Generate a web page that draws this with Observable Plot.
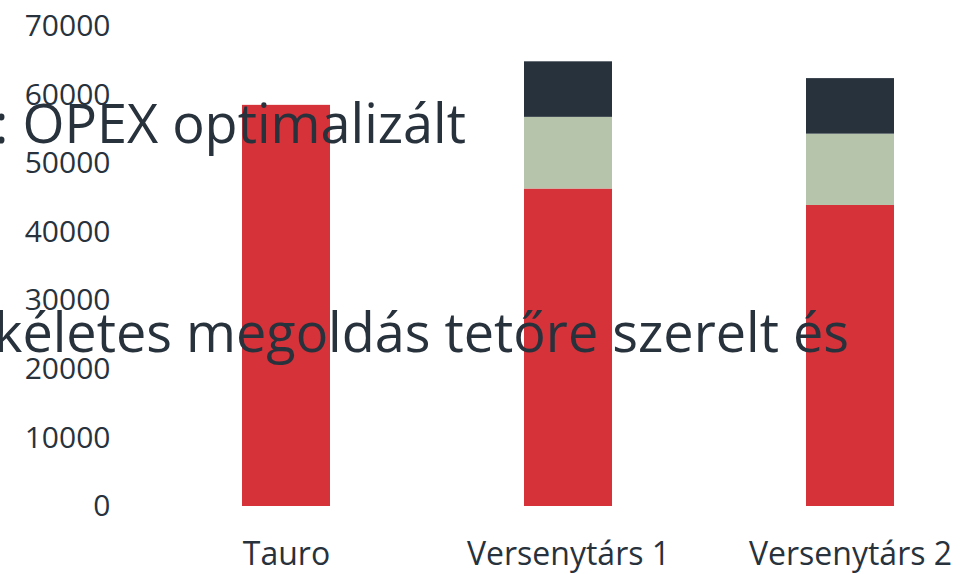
<!DOCTYPE html>
<html>
<head>
<meta charset="utf-8">
<script src="https://cdn.jsdelivr.net/npm/d3@7"></script>
<script src="https://cdn.jsdelivr.net/npm/@observablehq/plot@0.6"></script>
<style>
  html, body { margin: 0; padding: 0; background: #fff; overflow: hidden; }
  #wrap { position: relative; width: 976px; height: 574px; overflow: hidden; font-family: "Open Sans", "Noto Sans", sans-serif; color: #28323d; }
  .title { position: absolute; white-space: nowrap; font-size: 54px; line-height: 1; color: #28323d; pointer-events: none; }
</style>
</head>
<body>
<div id="wrap"></div>
<script>
const categories = ["Tauro", "Versenytárs 1", "Versenytárs 2"];
const seriesNames = ["Sorozat 1", "Sorozat 2", "Sorozat 3"];
const series1 = [58500, 46300, 43900];
const series2 = [0, 10450, 10400];
const series3 = [0, 8100, 8100];
const yTicks = [0, 10000, 20000, 30000, 40000, 50000, 60000, 70000];
const titleLines = [": OPEX optimalizált", "kéletes megoldás tetőre szerelt és"];
const colors = ["#d63239", "#b5c4aa", "#28323d"];

const allSeries = [series1, series2, series3];
const data = [];
seriesNames.forEach((s, si) => {
  categories.forEach((c, ci) => {
    data.push({cat: c, series: s, value: allSeries[si][ci]});
  });
});

const chart = Plot.plot({
  width: 976,
  height: 574,
  marginTop: 26,
  marginBottom: 68,
  marginLeft: 145,
  marginRight: 0,
  style: {fontFamily: "'Open Sans', 'Noto Sans', sans-serif", color: "#28323d", background: "#fff"},
  x: {domain: categories, range: [145, 991], paddingInner: 0.688, paddingOuter: 0.344},
  y: {domain: [0, 70000]},
  color: {domain: seriesNames, range: colors},
  marks: [
    Plot.barY(data, {x: "cat", y: "value", fill: "series", inset: 0, order: null}),
    Plot.axisY({ticks: yTicks, tickFormat: d3.format("d"), tickSize: 0, tickPadding: 35, fontSize: 30, label: null}),
    Plot.axisX({tickSize: 0, tickPadding: 36, fontSize: 32, label: null})
  ]
});

const wrap = document.getElementById("wrap");
wrap.appendChild(chart);

// Overlaid (left-clipped) title lines
const t1 = document.createElement("div");
t1.className = "title";
t1.textContent = titleLines[0];
t1.style.right = (976 - 466) + "px";
t1.style.top = "95px";
wrap.appendChild(t1);

const t2 = document.createElement("div");
t2.className = "title";
t2.textContent = titleLines[1];
t2.style.right = (976 - 849) + "px";
t2.style.top = "304px";
wrap.appendChild(t2);
</script>
</body>
</html>
